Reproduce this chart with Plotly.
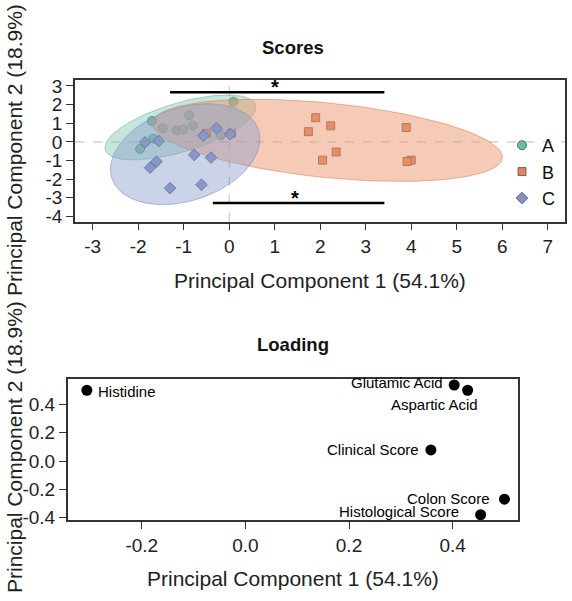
import numpy as np
import plotly.graph_objects as go

# ---------------- data ----------------
groups = ["A", "B", "C"]
A_x = [0.09, -0.88, -1.70, -0.80, -1.46, -1.16, -1.01, -0.18, -1.96, -1.67]
A_y = [2.16, 1.43, 1.12, 0.87, 0.73, 0.62, 0.67, 0.37, -0.38, 0.18]
B_x = [1.90, 2.23, 1.74, 3.89, 2.35, 2.05, 4.00, 3.91, -0.50, 0.05]
B_y = [1.30, 0.86, 0.55, 0.77, -0.54, -0.98, -0.98, -1.05, 0.46, 0.46]
C_x = [-1.85, -1.55, -0.57, -0.28, 0.02, -0.77, -0.40, -1.60, -1.74, -1.30, -0.61]
C_y = [-0.02, 0.05, 0.34, 0.73, 0.41, -0.70, -0.84, -1.06, -1.38, -2.48, -2.30]

sig_labels = ["*", "*"]
sig_x0 = [-1.30, -0.36]
sig_x1 = [3.41, 3.41]
sig_y = [2.66, -3.28]
sig_star_x = [1.0, 1.45]

load_names = ["Histidine", "Glutamic Acid", "Aspartic Acid", "Clinical Score",
              "Colon Score", "Histological Score"]
load_pc1 = [-0.306, 0.403, 0.429, 0.358, 0.500, 0.454]
load_pc2 = [0.500, 0.537, 0.500, 0.078, -0.270, -0.380]

score_xticks = [-3, -2, -1, 0, 1, 2, 3, 4, 5, 6, 7]
score_yticks = [3, 2, 1, 0, -1, -2, -3, -4]
load_xticks = [-0.2, 0.0, 0.2, 0.4]
load_yticks = [-0.4, -0.2, 0.0, 0.2, 0.4]

# ---------------- styles ----------------
W, H = 572, 601
FONT = "Arial, Liberation Sans, sans-serif"
colors = {"A": "#66C2A5", "B": "#E5845C", "C": "#8293C8"}
fills = {"A": "rgba(120,196,170,0.42)", "B": "rgba(236,150,110,0.5)", "C": "rgba(140,157,203,0.45)"}
edges = {"A": "rgba(110,180,155,0.6)", "B": "rgba(220,130,95,0.6)", "C": "rgba(130,145,195,0.6)"}
symbols = {"A": "circle", "B": "square", "C": "diamond"}
msize = {"A": 9, "B": 8, "C": 9}
data = {"A": (A_x, A_y), "B": (B_x, B_y), "C": (C_x, C_y)}
ELL_R = 2.5


def px_x(p):
    return p / W


def px_y(p):
    return (H - p) / H


def ellipse(x, y, r, n=120):
    x = np.asarray(x, float)
    y = np.asarray(y, float)
    cov = np.cov(np.vstack([x, y]))
    vals, vecs = np.linalg.eigh(cov)
    t = np.linspace(0, 2 * np.pi, n)
    circ = np.vstack([np.cos(t), np.sin(t)])
    pts = vecs @ (np.sqrt(vals)[:, None] * circ) * r
    return pts[0] + x.mean(), pts[1] + y.mean()


fig = go.Figure()

for g in groups:
    gx, gy = data[g]
    fig.add_trace(go.Scatter(
        x=gx, y=gy, mode="markers", name=g, xaxis="x", yaxis="y",
        marker=dict(symbol=symbols[g], size=msize[g], color=colors[g],
                    line=dict(color="rgba(70,70,70,0.75)", width=1)),
        showlegend=True))
    ex, ey = ellipse(gx, gy, ELL_R)
    fig.add_trace(go.Scatter(
        x=ex, y=ey, mode="lines", fill="toself", fillcolor=fills[g],
        line=dict(color=edges[g], width=1), xaxis="x", yaxis="y",
        hoverinfo="skip", showlegend=False))

# significance bars
for lab, a, b, yy, sx in zip(sig_labels, sig_x0, sig_x1, sig_y, sig_star_x):
    fig.add_trace(go.Scatter(x=[a, b], y=[yy, yy], mode="lines",
                             line=dict(color="black", width=2.5),
                             xaxis="x", yaxis="y", showlegend=False, hoverinfo="skip"))
    fig.add_annotation(x=sx, y=yy, xref="x", yref="y", text=f"<b>{lab}</b>", showarrow=False,
                       yanchor="bottom", font=dict(size=20, color="black", family=FONT),
                       yshift=-8)

# loading points
fig.add_trace(go.Scatter(x=load_pc1, y=load_pc2, mode="markers", xaxis="x2", yaxis="y2",
                         marker=dict(color="black", size=11), showlegend=False))
offsets = [(9, -1, "left"), (-9, 3, "right"), (12, -14, "right"),
           (-10, 0, "right"), (-12, 1, "right"), (-20, 3, "right")]
for name, lx, ly, (dx, dy, anc) in zip(load_names, load_pc1, load_pc2, offsets):
    fig.add_annotation(x=lx, y=ly, xref="x2", yref="y2", text=name, showarrow=False,
                       xanchor=anc, yanchor="middle", xshift=dx, yshift=dy,
                       font=dict(size=15, color="black", family=FONT))

# zero reference lines in scores plot
fig.add_shape(type="line", xref="x", yref="paper", x0=0, x1=0, y0=px_y(221.7), y1=px_y(80),
              line=dict(color="#BBBBBB", width=1, dash="dash"), layer="below")
fig.add_shape(type="line", xref="paper", yref="y", x0=px_x(75), x1=px_x(565), y0=0, y1=0,
              line=dict(color="#BBBBBB", width=1, dash="dash"), layer="below")

axis_common = dict(showgrid=False, zeroline=False, showline=True, mirror=True,
                   linecolor="#333333", linewidth=1.5, ticks="outside", ticklen=7,
                   tickcolor="#333333", tickwidth=1.2, automargin=False,
                   tickfont=dict(size=19, color="#222222", family=FONT))

fig.update_layout(
    width=W, height=H, margin=dict(l=0, r=0, t=0, b=0, autoexpand=False),
    paper_bgcolor="white", plot_bgcolor="white",
    font=dict(family=FONT, color="#222222"),
    xaxis=dict(domain=[px_x(75), px_x(565)], range=[-3.39, 7.38], anchor="y",
               tickvals=score_xticks, ticktext=[str(v) for v in score_xticks], **axis_common),
    yaxis=dict(domain=[px_y(221.7), px_y(80)], range=[-4.28, 3.32], anchor="x",
               tickvals=score_yticks, ticktext=[str(v) for v in score_yticks], **axis_common),
    xaxis2=dict(domain=[px_x(67.7), px_x(517.7)], range=[-0.343, 0.5256], anchor="y2",
                tickvals=load_xticks, ticktext=[f"{v:.1f}" for v in load_xticks], **axis_common),
    yaxis2=dict(domain=[px_y(520), px_y(379)], range=[-0.417, 0.5795], anchor="x2",
                tickvals=load_yticks, ticktext=[f"{v:.1f}" for v in load_yticks], **axis_common),
    legend=dict(x=px_x(502), y=px_y(127), xanchor="left", yanchor="top",
                bgcolor="rgba(0,0,0,0)", font=dict(size=18, family=FONT, color="#111111"),
                tracegroupgap=0, itemwidth=30),
    showlegend=True,
)

# titles and axis titles
for txt, cx, cy, sz, bold in [("Scores", 292.5, 47, 18.5, True), ("Loading", 292.5, 345, 18.5, True),
                              ("Principal Component 1 (54.1%)", 320, 280, 21, False),
                              ("Principal Component 1 (54.1%)", 292.5, 578, 21, False)]:
    fig.add_annotation(x=px_x(cx), y=px_y(cy), xref="paper", yref="paper",
                       text=f"<b>{txt}</b>" if bold else txt, showarrow=False,
                       xanchor="center", yanchor="middle",
                       font=dict(size=sz, color="#111111" if bold else "#222222", family=FONT))
for cy in [150, 447]:
    fig.add_annotation(x=px_x(14), y=px_y(cy), xref="paper", yref="paper",
                       text="Principal Component 2 (18.9%)", showarrow=False, textangle=-90,
                       xanchor="center", yanchor="middle",
                       font=dict(size=21, color="#222222", family=FONT))

fig.write_html("out.html", config={"displayModeBar": False},
               post_script="document.body.style.margin='0px';")
